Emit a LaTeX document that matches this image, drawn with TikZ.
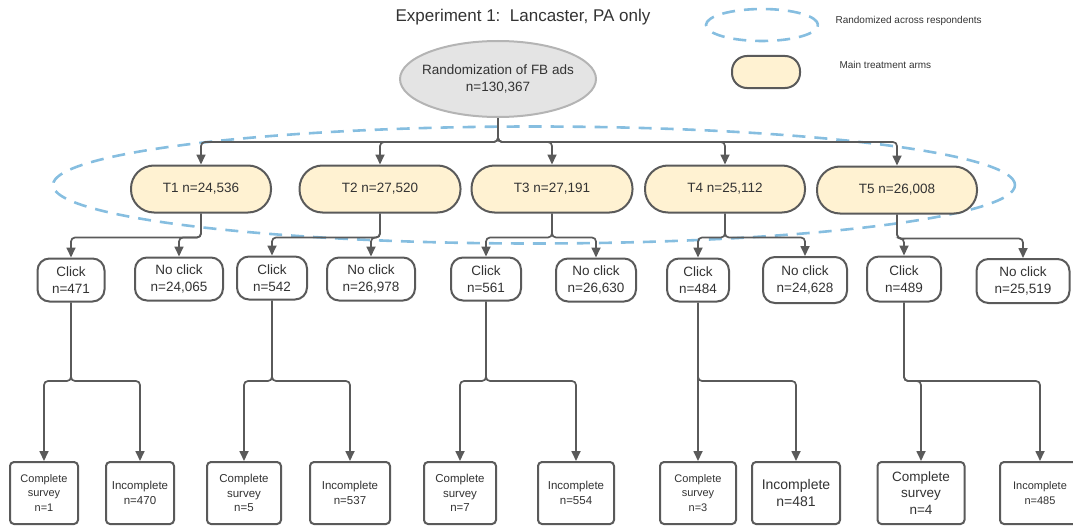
\documentclass[tikz,border=0pt]{standalone}
\usepackage{fontspec}
\setmainfont{Liberation Sans}
\usetikzlibrary{shapes.geometric,arrows.meta}

\definecolor{linegray}{HTML}{5A5A5A}
\definecolor{textgray}{HTML}{333333}
\definecolor{armfill}{HTML}{FFF2D2}
\definecolor{rootfill}{HTML}{E4E4E4}
\definecolor{rootedge}{HTML}{B4B4B4}
\definecolor{randblue}{HTML}{86BEE0}

\begin{document}
\begin{tikzpicture}[x=1pt,y=-1pt,
  every node/.style={text=textgray},
  arm/.style={draw=linegray,line width=2pt,fill=armfill,rounded corners=23pt,
    minimum height=47pt,inner sep=0pt,font=\fontsize{13.5}{16}\selectfont},
  clickbox/.style={draw=linegray,line width=2pt,fill=white,rounded corners=12pt,
    minimum height=43pt,inner sep=0pt,align=center,font=\fontsize{13.5}{17}\selectfont},
  surveybox/.style={draw=linegray,line width=2pt,fill=white,rounded corners=4pt,
    minimum height=62pt,inner sep=0pt,align=center},
  conn/.style={draw=linegray,line width=1.7pt,rounded corners=4pt,
    -{Triangle[length=10pt,width=9pt]}},
  randomized/.style={draw=randblue,line width=2.6pt,dash pattern=on 13pt off 9pt}]
\useasboundingbox (0,0) rectangle (1073,527);

\node[font=\fontsize{17}{20}\selectfont] (title) at (523,17) {Experiment 1:\ \ Lancaster, PA only};

% legend
\node[randomized,ellipse,minimum width=112pt,minimum height=32pt] (legrand) at (762,25) {};
\node[anchor=west,font=\fontsize{10}{12}\selectfont] (legrandtext) at (832,21) {Randomized across respondents};
\node[arm,minimum width=68pt,minimum height=32pt,rounded corners=15pt] (legarm) at (766,72) {};
\node[anchor=west,font=\fontsize{10}{12}\selectfont] (legarmtext) at (836,65) {Main treatment arms};

\node[draw=rootedge,line width=2pt,fill=rootfill,ellipse,minimum width=196pt,minimum height=76pt,
  inner xsep=-7pt,inner ysep=0pt,align=center,font=\fontsize{13.5}{17}\selectfont] (root) at (498,79) {Randomization of FB ads\\n=130,367};

\draw[randomized] (534,185) ellipse [x radius=481pt,y radius=58.5pt];

% treatment arms
\node[arm,minimum width=140pt] (t1) at (201,189) {T1 n=24,536};
\node[arm,minimum width=161pt] (t2) at (380,189) {T2 n=27,520};
\node[arm,minimum width=161pt] (t3) at (552,189) {T3 n=27,191};
\node[arm,minimum width=160pt] (t4) at (725,189) {T4 n=25,112};
\node[arm,minimum width=160pt] (t5) at (897,190) {T5 n=26,008};

% clicks
\node[clickbox,minimum width=67pt] (c1) at (71,280) {Click\\n=471};
\node[clickbox,minimum width=88pt] (nc1) at (179,279) {No click\\n=24,065};
\node[clickbox,minimum width=70pt] (c2) at (272,278) {Click\\n=542};
\node[clickbox,minimum width=88pt] (nc2) at (371,279) {No click\\n=26,978};
\node[clickbox,minimum width=70pt] (c3) at (486,279) {Click\\n=561};
\node[clickbox,minimum width=80pt] (nc3) at (596,280) {No click\\n=26,630};
\node[clickbox,minimum width=62pt] (c4) at (698,280) {Click\\n=484};
\node[clickbox,minimum width=84pt,minimum height=46pt] (nc4) at (805,280) {No click\\n=24,628};
\node[clickbox,minimum width=74pt,minimum height=45pt] (c5) at (904,279) {Click\\n=489};
\node[clickbox,minimum width=93pt,minimum height=44pt] (nc5) at (1023,281) {No click\\n=25,519};

% surveys
\node[surveybox,minimum width=68pt,font=\fontsize{11}{14.5}\selectfont] (cs1) at (44,493) {Complete\\survey\\n=1};
\node[surveybox,minimum width=68pt,font=\fontsize{11.5}{15}\selectfont] (ic1) at (140,493) {Incomplete\\n=470};
\node[surveybox,minimum width=74pt,font=\fontsize{11.5}{14.5}\selectfont] (cs2) at (244,493) {Complete\\survey\\n=5};
\node[surveybox,minimum width=80pt,font=\fontsize{11.5}{15}\selectfont] (ic2) at (350,493) {Incomplete\\n=537};
\node[surveybox,minimum width=72pt,font=\fontsize{11.5}{14.5}\selectfont] (cs3) at (460,493) {Complete\\survey\\n=7};
\node[surveybox,minimum width=76pt,font=\fontsize{11.5}{15}\selectfont] (ic3) at (576,493) {Incomplete\\n=554};
\node[surveybox,minimum width=76pt,font=\fontsize{11}{14.5}\selectfont] (cs4) at (698,493) {Complete\\survey\\n=3};
\node[surveybox,minimum width=88pt,font=\fontsize{14}{17}\selectfont] (ic4) at (796,493) {Incomplete\\n=481};
\node[surveybox,minimum width=87pt,font=\fontsize{13.5}{16.5}\selectfont] (cs5) at (921,493) {Complete\\survey\\n=4};
\node[surveybox,minimum width=80pt,font=\fontsize{11}{15}\selectfont] (ic5) at (1040,493) {Incomplete\\n=485};

% connectors
\coordinate (rootsplit) at (0,142);
\coordinate (clicksplit) at (0,381);
\foreach \i in {1,...,5} {
  \draw[conn] (root.south) -- (root.south |- rootsplit) -| (t\i.north);
  \draw[conn] (t\i.south) -- ++(0,24) -| (c\i.north);
  \draw[conn] (t\i.south) -- ++(0,24) -| (nc\i.north);
  \draw[conn] (c\i.south) -- (c\i.south |- clicksplit) -| (cs\i.north);
  \draw[conn] (c\i.south) -- (c\i.south |- clicksplit) -| (ic\i.north);
}
\end{tikzpicture}
\end{document}
